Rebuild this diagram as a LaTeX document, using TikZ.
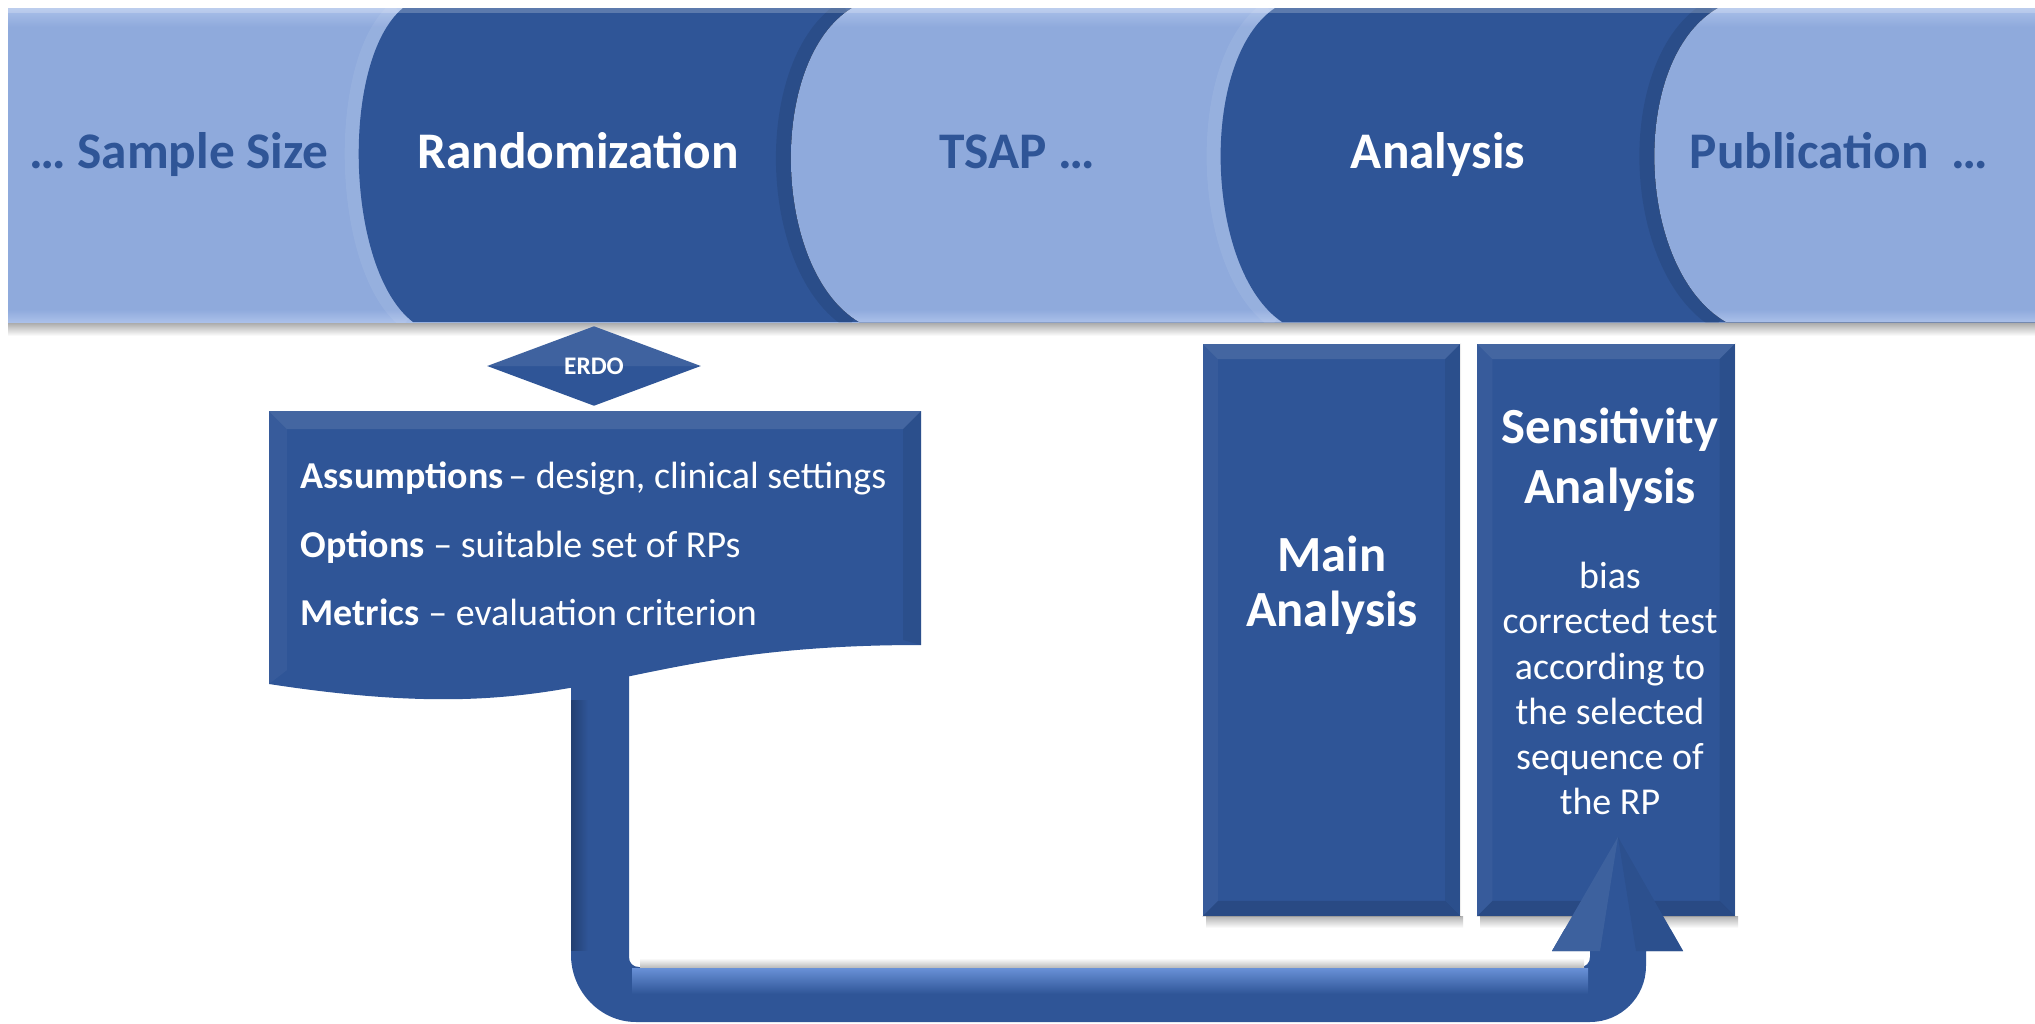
\documentclass[tikz,border=0pt]{standalone}
\usepackage{fontspec}
\setmainfont{Carlito}
\usetikzlibrary{shapes.geometric,calc}
\definecolor{dkblue}{RGB}{47,85,151}
\definecolor{ltblue}{RGB}{143,170,220}
\definecolor{ltblueedge}{RGB}{170,192,233}
\definecolor{arrowhi}{RGB}{105,145,215}
\pgfdeclareverticalshading{ltseg}{100bp}{color(0bp)=(ltblueedge); color(25bp)=(ltblueedge); color(27bp)=(ltblue); color(72bp)=(ltblue); color(75bp)=(ltblueedge); color(100bp)=(ltblueedge)}
\tikzset{
  bandlabel/.style={font=\bfseries\fontsize{14.6}{17}\selectfont, anchor=base, inner sep=0},
  darklabel/.style={bandlabel, text=white},
  lightlabel/.style={bandlabel, text=dkblue},
  boxtitle/.style={font=\bfseries\fontsize{14.4}{17}\selectfont, text=white, anchor=base, inner sep=0},
  boxbody/.style={font=\fontsize{10.8}{13}\selectfont, text=white, anchor=base, inner sep=0},
  listline/.style={font=\fontsize{10.8}{13}\selectfont, text=white, anchor=base west, inner sep=0},
  panel/.style={rectangle, fill=dkblue, inner sep=0, minimum width=2.575cm, minimum height=5.72cm},
  darkseg/.style={fill=dkblue},
  lightseg/.style={shading=ltseg},
  edgeshadow/.style={draw=black, opacity=0.09, line width=0.16cm},
  edgelight/.style={draw=white, opacity=0.07, line width=0.14cm},
}
\newcommand\panelbevel[1]{%
  \fill[white,opacity=0.10] (#1.north west) -- (#1.north east) -- ($(#1.north east)+(-16,16)$) -- ($(#1.north west)+(16,16)$) -- cycle;
  \fill[black,opacity=0.12] (#1.south west) -- (#1.south east) -- ($(#1.south east)+(-16,-16)$) -- ($(#1.south west)+(16,-16)$) -- cycle;
  \fill[white,opacity=0.04] (#1.north west) -- ($(#1.north west)+(16,16)$) -- ($(#1.south west)+(16,-16)$) -- (#1.south west) -- cycle;
  \fill[black,opacity=0.07] (#1.north east) -- ($(#1.north east)+(-16,16)$) -- ($(#1.south east)+(-16,-16)$) -- (#1.south east) -- cycle;
}
\begin{document}
\begin{tikzpicture}[x=0.01cm,y=-0.01cm]
\useasboundingbox (0,0) rectangle (2035,1024);
\fill[white] (0,0) rectangle (2035,1024);

% ---------- top band ----------
\shade[top color=black!35, bottom color=white] (8,322) rectangle (2035,336);
\begin{scope}
  \clip (8,8) rectangle (2035,322);
  \fill[lightseg] (8,8) rectangle (2035,322);
  \draw[edgelight,xshift=-0.07cm] (403,8) .. controls (340,60) and (345,270) .. (413,322);
  \fill[darkseg] (403,8) .. controls (340,60) and (345,270) .. (413,322) -- (2035,322) -- (2035,8) -- cycle;
  \draw[edgeshadow,xshift=-0.07cm] (852,8) .. controls (767,60) and (772,270) .. (859,322);
  \fill[lightseg] (852,8) .. controls (767,60) and (772,270) .. (859,322) -- (2035,322) -- (2035,8) -- cycle;
  \draw[edgelight,xshift=-0.07cm] (1275,8) .. controls (1198,60) and (1205,270) .. (1282,322);
  \fill[darkseg] (1275,8) .. controls (1198,60) and (1205,270) .. (1282,322) -- (2035,322) -- (2035,8) -- cycle;
  \draw[edgeshadow,xshift=-0.07cm] (1718,8) .. controls (1628,60) and (1636,270) .. (1726,322);
  \fill[lightseg] (1718,8) .. controls (1628,60) and (1636,270) .. (1726,322) -- (2035,322) -- (2035,8) -- cycle;
  \fill[white,opacity=0.22] (8,8) rectangle (2035,13);
\end{scope}

\node[lightlabel] (sample) at (179,168) {… Sample Size};
\node[darklabel] (random) at (578,168) {Randomization};
\node[lightlabel] (tsap) at (1017,168) {TSAP …};
\node[darklabel] (analysis) at (1438,168) {Analysis};
\node[lightlabel] (publ) at (1839,168) {Publication\hspace{0.45em}…};

% ---------- U-turn arrow ----------
\coordinate (arrowstart) at (600,660);
\coordinate (arrowtip) at (1618,837);
\fill[dkblue] ($(arrowstart)+(-29,0)$) -- (571,955) .. controls (571,991) and (600,1022) .. (636,1022)
  -- (1590,1022) .. controls (1621,1022) and (1646,997) .. (1646,966) -- (1646,951)
  -- (1683,951) -- (arrowtip) -- (1552,951) -- (1590,951) -- (1590,957)
  .. controls (1590,963) and (1586,967) .. (1580,967) -- (639,967)
  .. controls (633,967) and (629,963) .. (629,957) -- ($(arrowstart)+(29,0)$) -- cycle;
\shade[top color=arrowhi, bottom color=dkblue] (632,968) rectangle (1588,994);
\shade[left color=black!25!dkblue, right color=dkblue] (571,700) rectangle (588,950);
\shade[top color=white, bottom color=black!25] (640,958) rectangle (1584,967);

% ---------- assumptions box ----------
\fill[dkblue] (269,411) -- (921,411) -- (921,645) .. controls (595,645) and (595,734) .. (269,684) -- cycle;
\fill[white,opacity=0.10] (269,411) -- (921,411) -- (903,429) -- (287,429) -- cycle;
\fill[white,opacity=0.04] (269,411) -- (287,429) -- (287,670) -- (269,684) -- cycle;
\fill[black,opacity=0.07] (921,411) -- (903,429) -- (903,640) -- (921,645) -- cycle;
\node[listline] (assump) at (300,488) {\textbf{Assumptions}\hspace{0.12em}– design, clinical settings};
\node[listline] (opts) at (300,557) {\textbf{Options} – suitable set of RPs};
\node[listline] (metr) at (300,625) {\textbf{Metrics} – evaluation criterion};

% ---------- ERDO diamond ----------
\node[diamond, fill=dkblue, minimum width=2.14cm, minimum height=0.8cm, aspect=2.675, inner sep=0,
      text=white, font=\bfseries\fontsize{7.2}{8}\selectfont] (erdo) at (594,366) {ERDO};
\fill[white,opacity=0.08] (erdo.west) -- (erdo.north) -- (erdo.east) -- cycle;

% ---------- analysis panels ----------
\shade[top color=black!30, bottom color=white] (1206,916) rectangle (1463,928);
\shade[top color=black!30, bottom color=white] (1480,916) rectangle (1738,928);
\node[panel] (mainbox) at (1331.5,630) {};
\node[panel] (sensbox) at (1606,630) {};
\panelbevel{mainbox}
\panelbevel{sensbox}
% arrow head overlapping the sensitivity panel
\fill[dkblue] (1683,951) -- (arrowtip) -- (1552,951) -- cycle;
\fill[white,opacity=0.07] (arrowtip) -- (1552,951) -- (1600,951) -- cycle;
\fill[black,opacity=0.06] (arrowtip) -- (1683,951) -- (1636,951) -- cycle;

\node[boxtitle] (mainA) at (1332,571) {Main};
\node[boxtitle] (mainB) at (1332,626) {Analysis};
\node[boxtitle] (sensA) at (1610,443) {Sensitivity};
\node[boxtitle] (sensB) at (1610,503) {Analysis};
\node[boxbody] (b1) at (1610,588) {bias};
\node[boxbody] (b2) at (1610,633) {corrected test};
\node[boxbody] (b3) at (1610,679) {according to};
\node[boxbody] (b4) at (1610,724) {the selected};
\node[boxbody] (b5) at (1610,769) {sequence of};
\node[boxbody] (b6) at (1610,814) {the RP};
\end{tikzpicture}
\end{document}
